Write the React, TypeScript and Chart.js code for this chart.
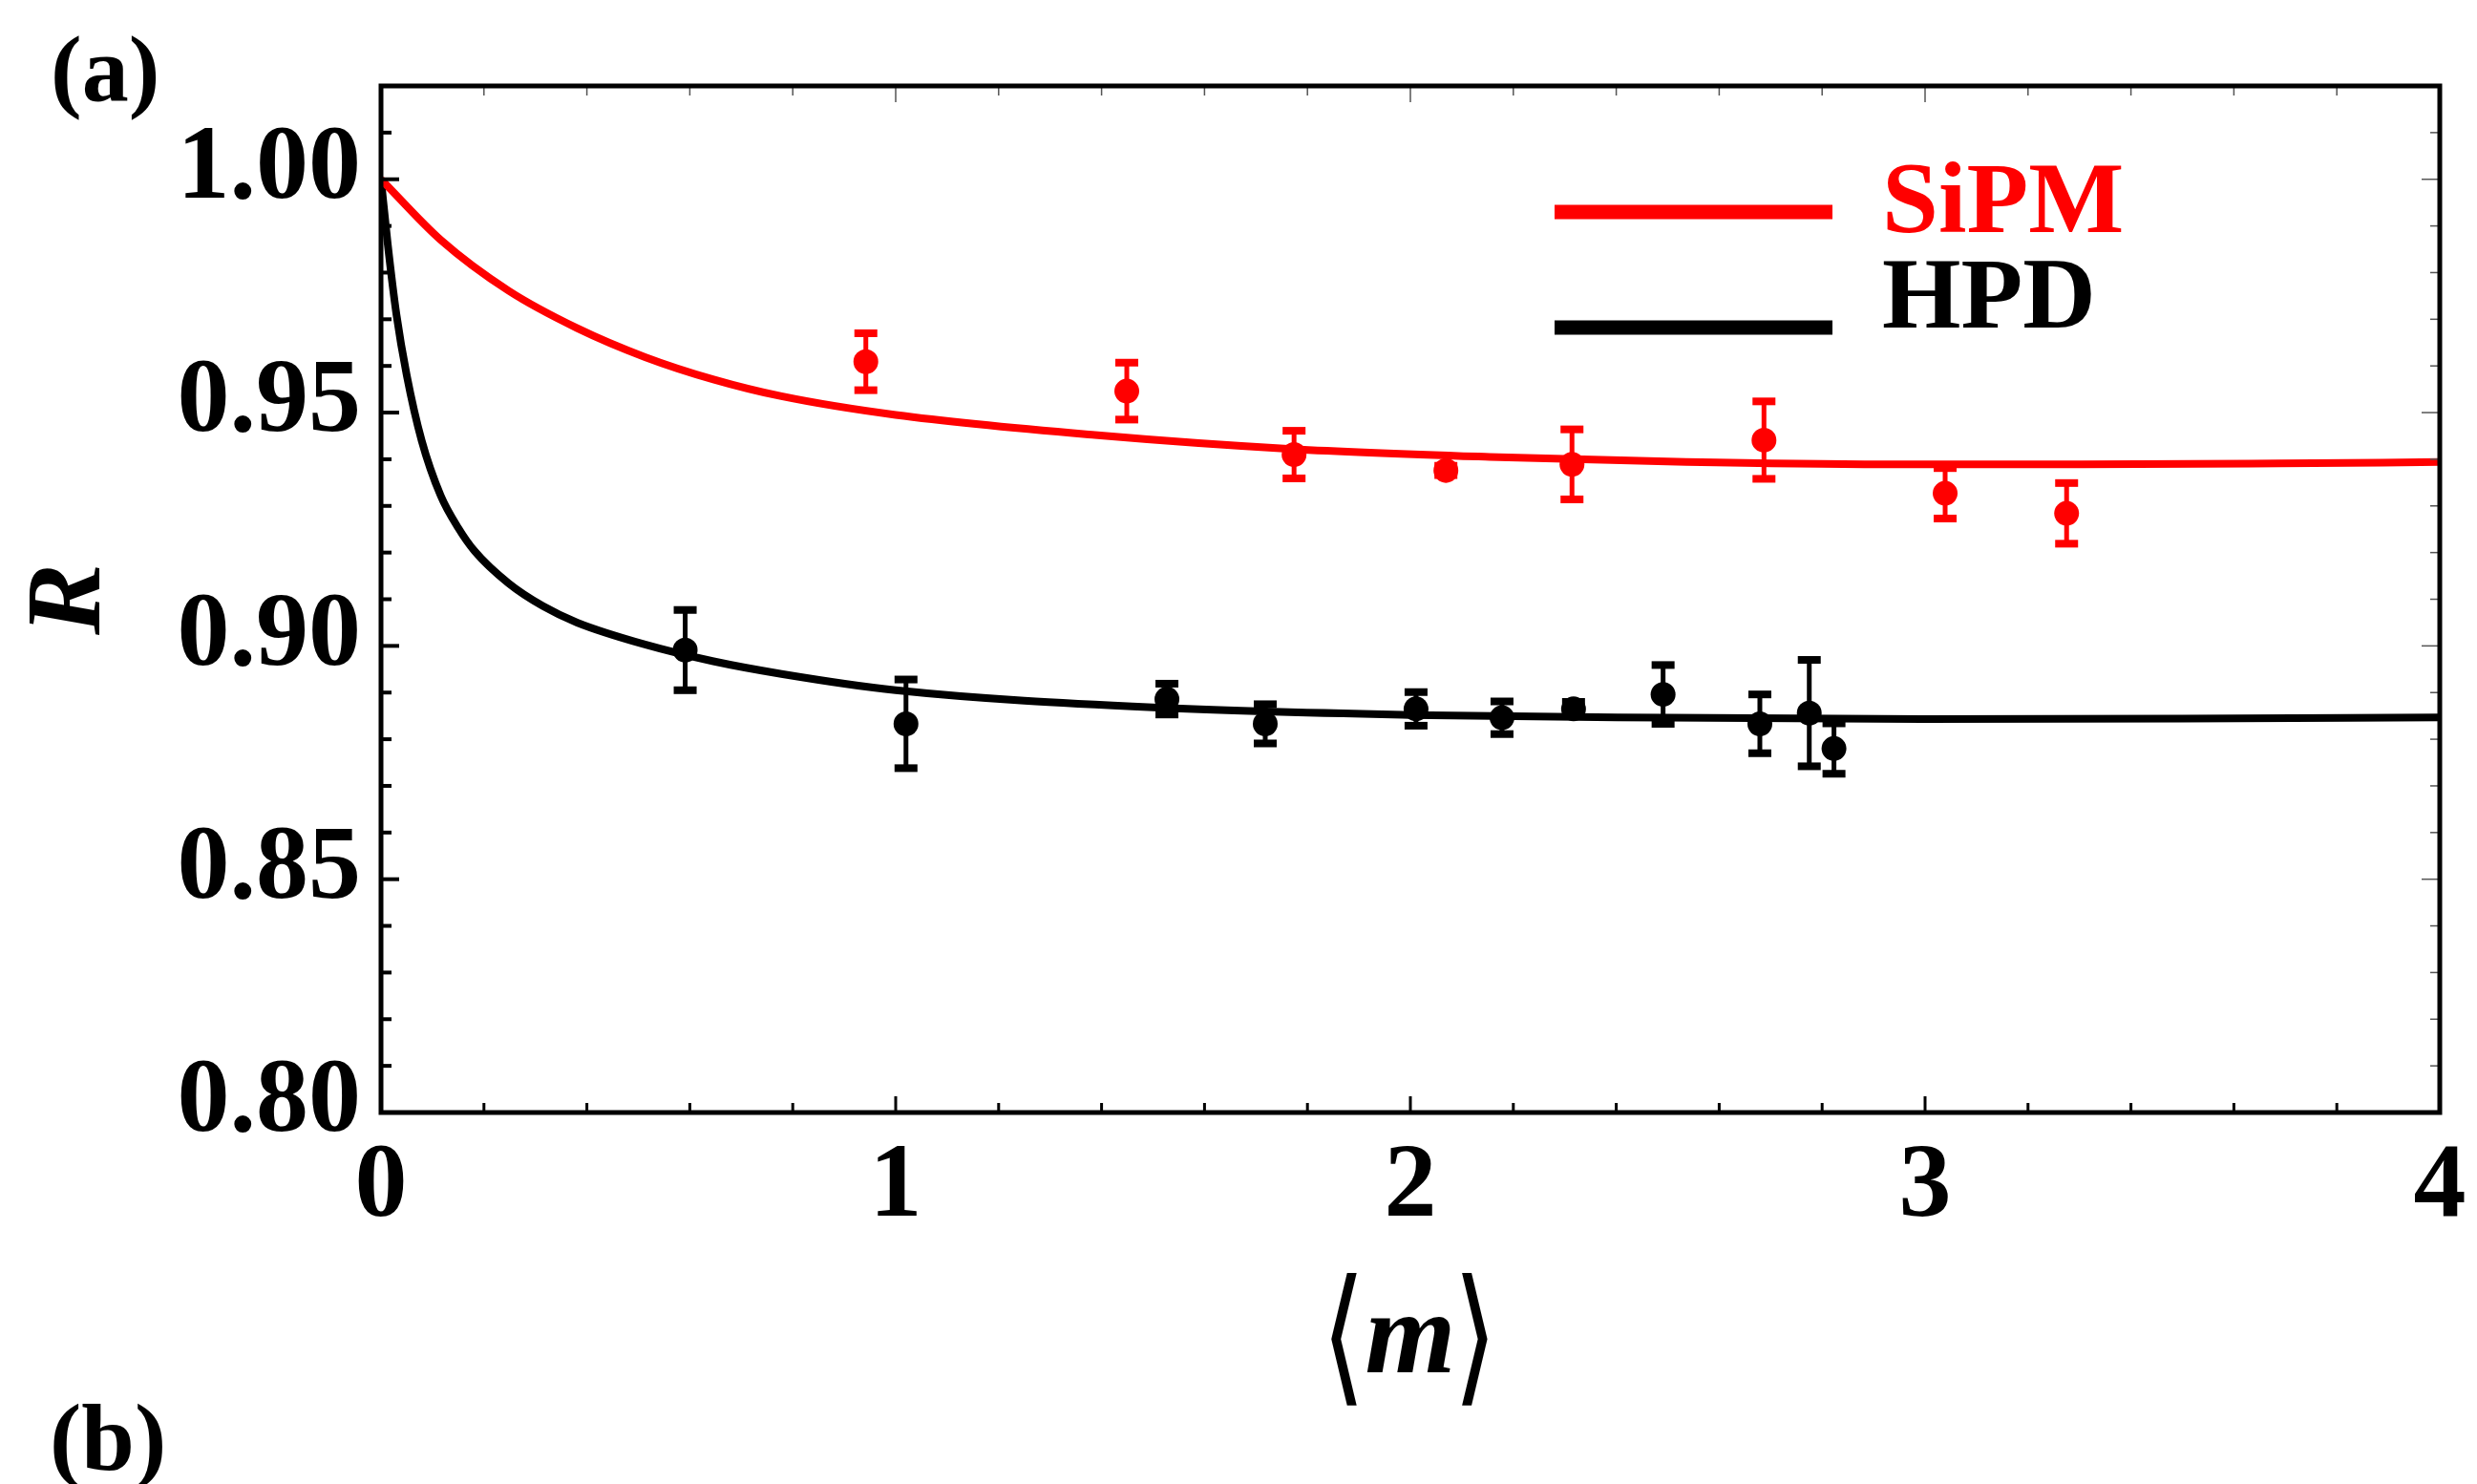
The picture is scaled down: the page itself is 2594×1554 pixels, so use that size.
import { useEffect, useRef } from "react";
import { Chart, registerables } from "chart.js";

Chart.register(...registerables);

// Measured ratio R versus mean photoelectron number <m>
const sipmM = [0.942, 1.449, 1.774, 2.069, 2.314, 2.687, 3.039, 3.275];
const sipmR = [0.9609, 0.9546, 0.941, 0.9376, 0.9389, 0.9441, 0.9327, 0.9284];
const sipmErr = [0.0061, 0.0061, 0.0051, 0.001, 0.0075, 0.0083, 0.0054, 0.0065];

const hpdM = [0.591, 1.02, 1.527, 1.718, 2.011, 2.178, 2.317, 2.491, 2.679, 2.775, 2.823];
const hpdR = [0.8991, 0.8833, 0.8886, 0.8833, 0.8865, 0.8846, 0.8865, 0.8896, 0.8833, 0.8856, 0.878];
const hpdErr = [0.0086, 0.0095, 0.0033, 0.0042, 0.0036, 0.0035, 0.0015, 0.0063, 0.0063, 0.0114, 0.0054];

// Fitted model curves
const sipmFitM = [0, 0.116, 0.248, 0.381, 0.513, 0.646, 0.778, 1.0, 1.387, 1.77, 2.154, 2.536, 2.92, 3.304, 3.687, 4.0];
const sipmFitR = [1.0, 0.987, 0.9761, 0.9681, 0.9619, 0.9571, 0.9535, 0.9495, 0.9452, 0.9422, 0.9405, 0.9394, 0.9389, 0.9389, 0.9391, 0.9394];

const hpdFitM = [0, 0.013, 0.03, 0.05, 0.079, 0.116, 0.15, 0.182, 0.248, 0.315, 0.381, 0.513, 0.646, 0.778, 1.0, 1.5, 2.0, 2.5, 3.0, 3.5, 4.0];
const hpdFitR = [1.0, 0.9862, 0.971, 0.958, 0.944, 0.9322, 0.9253, 0.9203, 0.9134, 0.9085, 0.905, 0.9003, 0.8967, 0.894, 0.8905, 0.8868, 0.8852, 0.8846, 0.8843, 0.8844, 0.8847];

// Axis ranges and tick spacing
const xRange = [0, 4];
const xStep = 0.2;
const yRange = [0.8, 1.02];
const yStep = 0.01;

const seriesNames = ["SiPM", "HPD"];
const seriesColors = ["#ff0000", "#000000"];
const panelTags = ["(a)", "(b)"];
const xTitleParts = ["\u27e8", "m", "\u27e9"];
const yTitle = "R";

const SERIF = '"Liberation Serif", "Times New Roman", "DejaVu Serif", "DejaVu Sans", serif';

const toPoints = (xs: number[], ys: number[]) => xs.map((x, i) => ({ x, y: ys[i] }));
const isMajorY = (v: number) => Math.round(v * 100) % 5 === 0;
const isMajorX = (v: number) => Math.abs(v - Math.round(v)) < 1e-6;

const errorBarPlugin = {
  id: "errorBars",
  afterDatasetsDraw(chart: any) {
    const { ctx, scales } = chart;
    const xs = scales.x;
    const ys = scales.y;
    const groups: [number[], number[], number[], string][] = [
      [sipmM, sipmR, sipmErr, seriesColors[0]],
      [hpdM, hpdR, hpdErr, seriesColors[1]],
    ];
    ctx.save();
    for (const [mx, r, e, color] of groups) {
      ctx.strokeStyle = color;
      ctx.fillStyle = color;
      mx.forEach((m, i) => {
        const px = xs.getPixelForValue(m);
        const top = ys.getPixelForValue(r[i] + e[i]);
        const bot = ys.getPixelForValue(r[i] - e[i]);
        ctx.lineWidth = 5;
        ctx.beginPath();
        ctx.moveTo(px, top);
        ctx.lineTo(px, bot);
        ctx.stroke();
        ctx.fillRect(px - 12, top - 4, 24, 8);
        ctx.fillRect(px - 12, bot - 4, 24, 8);
      });
    }
    ctx.restore();
  },
};

const framePlugin = {
  id: "frameTicks",
  afterDraw(chart: any) {
    const { ctx, chartArea: a, scales } = chart;
    const xs = scales.x;
    const ys = scales.y;
    const seg = (x1: number, y1: number, x2: number, y2: number) => {
      ctx.beginPath();
      ctx.moveTo(x1, y1);
      ctx.lineTo(x2, y2);
      ctx.stroke();
    };
    ctx.save();
    ys.ticks.forEach((t: any) => {
      const py = ys.getPixelForValue(t.value);
      const major = isMajorY(t.value);
      ctx.strokeStyle = "#000";
      ctx.lineWidth = 4;
      seg(a.left, py, a.left + (major ? 19 : 11), py);
      ctx.strokeStyle = "#555";
      ctx.lineWidth = 1.5;
      seg(a.right, py, a.right - (major ? 19 : 10), py);
    });
    xs.ticks.forEach((t: any) => {
      const px = xs.getPixelForValue(t.value);
      const major = isMajorX(t.value);
      ctx.strokeStyle = "#000";
      ctx.lineWidth = 3;
      seg(px, a.bottom, px, a.bottom - (major ? 17 : 10));
      ctx.strokeStyle = "#555";
      ctx.lineWidth = 1.5;
      seg(px, a.top, px, a.top + (major ? 17 : 10));
    });
    ctx.strokeStyle = "#000";
    ctx.lineWidth = 5;
    ctx.strokeRect(a.left, a.top, a.right - a.left, a.bottom - a.top);

    // legend
    const legendRows = [222, 343];
    seriesNames.forEach((name, i) => {
      ctx.strokeStyle = seriesColors[i];
      ctx.lineWidth = 15;
      seg(1628, legendRows[i], 1919, legendRows[i]);
      ctx.fillStyle = seriesColors[i];
      ctx.font = `bold 106px ${SERIF}`;
      ctx.textAlign = "left";
      ctx.textBaseline = "alphabetic";
      ctx.fillText(name, 1971, i === 0 ? 243 : 343);
    });

    // x-axis title: upright angle brackets around an italic m
    const cx = (a.left + a.right) / 2;
    ctx.fillStyle = "#000";
    ctx.textAlign = "center";
    ctx.textBaseline = "middle";
    ctx.font = `bold italic 122px ${SERIF}`;
    ctx.fillText(xTitleParts[1], cx, 1405);
    ctx.font = `normal 120px ${SERIF}`;
    [
      [xTitleParts[0], cx - 70],
      [xTitleParts[2], cx + 68],
    ].forEach(([s, x]) => {
      ctx.save();
      ctx.translate(x as number, 1410);
      ctx.scale(1, 1.3);
      ctx.fillText(s as string, 0, 0);
      ctx.restore();
    });

    // panel tags
    ctx.textAlign = "left";
    ctx.textBaseline = "alphabetic";
    ctx.font = `bold 98px ${SERIF}`;
    ctx.fillText(panelTags[0], 53, 105);
    ctx.font = `bold 100px ${SERIF}`;
    ctx.fillText(panelTags[1], 52, 1539);
    ctx.restore();
  },
};

export default function App() {
  const canvasRef = useRef<HTMLCanvasElement | null>(null);

  useEffect(() => {
    const canvas = canvasRef.current;
    if (!canvas) return;
    const chart = new Chart(canvas, {
      type: "scatter",
      data: {
        datasets: [
          {
            label: seriesNames[0] + " data",
            data: toPoints(sipmM, sipmR),
            backgroundColor: seriesColors[0],
            borderWidth: 0,
            pointRadius: 13,
            showLine: false,
          },
          {
            label: seriesNames[1] + " data",
            data: toPoints(hpdM, hpdR),
            backgroundColor: seriesColors[1],
            borderWidth: 0,
            pointRadius: 13,
            showLine: false,
          },
          {
            label: seriesNames[0] + " fit",
            data: toPoints(sipmFitM, sipmFitR),
            borderColor: seriesColors[0],
            borderWidth: 8,
            pointRadius: 0,
            showLine: true,
            cubicInterpolationMode: "monotone",
          },
          {
            label: seriesNames[1] + " fit",
            data: toPoints(hpdFitM, hpdFitR),
            borderColor: seriesColors[1],
            borderWidth: 8,
            pointRadius: 0,
            showLine: true,
            cubicInterpolationMode: "monotone",
          },
        ],
      },
      options: {
        responsive: false,
        maintainAspectRatio: false,
        animation: false,
        events: [],
        layout: { padding: { left: 0, top: 90, right: 39, bottom: 0 } },
        plugins: { legend: { display: false }, tooltip: { enabled: false } },
        scales: {
          x: {
            type: "linear",
            position: "bottom",
            min: xRange[0],
            max: xRange[1],
            grid: { display: false },
            border: { display: false },
            ticks: {
              stepSize: xStep,
              autoSkip: false,
              maxRotation: 0,
              minRotation: 0,
              padding: 6,
              color: "#000",
              font: { family: SERIF, size: 110, weight: "bold" },
              callback: (v: any) => (isMajorX(Number(v)) ? String(Math.round(Number(v))) : ""),
            },
            afterFit: (s: any) => {
              s.height = 389;
            },
          },
          y: {
            type: "linear",
            position: "left",
            min: yRange[0],
            max: yRange[1],
            grid: { display: false },
            border: { display: false },
            ticks: {
              stepSize: yStep,
              autoSkip: false,
              padding: 13,
              labelOffset: -9,
              color: "#000",
              font: { family: SERIF, size: 110, weight: "bold" },
              callback: (v: any) => (isMajorY(Number(v)) ? Number(v).toFixed(2) : ""),
            },
            title: {
              display: true,
              text: yTitle,
              color: "#000",
              font: { family: SERIF, size: 112, style: "italic", weight: "bold" },
              padding: { top: 8, bottom: 0 },
            },
            afterFit: (s: any) => {
              s.width = 399;
            },
          },
        },
      },
      plugins: [errorBarPlugin, framePlugin],
    } as any);
    return () => chart.destroy();
  }, []);

  return (
    <div style={{ position: "fixed", left: 0, top: 0, width: 2594, height: 1554, background: "#fff" }}>
      <canvas ref={canvasRef} width={2594} height={1554} style={{ display: "block" }} />
    </div>
  );
}
